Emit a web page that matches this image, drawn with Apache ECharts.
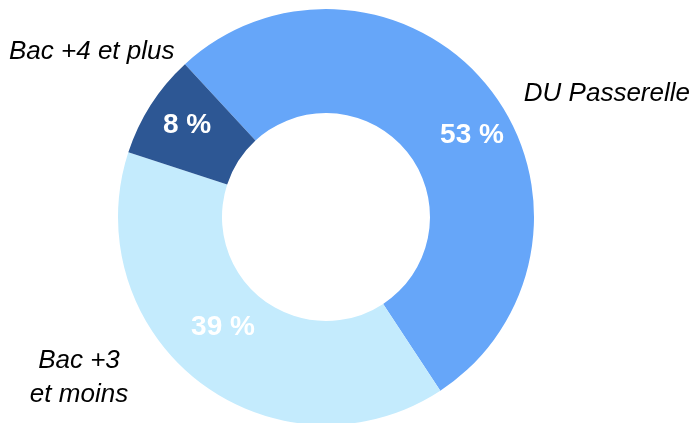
<!DOCTYPE html>
<html>
<head>
<meta charset="utf-8">
<script src="https://cdn.jsdelivr.net/npm/echarts@6/dist/echarts.min.js"></script>
<style>
  html, body { margin: 0; padding: 0; background: #fff; }
  #chart { width: 694px; height: 423px; }
</style>
</head>
<body>
<div id="chart"></div>
<script>
// catégories et valeurs (sens horaire, depuis le haut gauche)
const categories = ['DU Passerelle', 'Bac +3\net moins', 'Bac +4 et plus'];
const values = [52.6, 39.3, 8.1];
const colors = ['#66a6f9', '#c4ebfd', '#2d5794'];

// placement des étiquettes (pourcentages dans l'anneau, noms à l'extérieur)
const pctPos = [[472, 135], [223, 327], [187, 125]];
const namePos = [[690, 94, 'right'], [79, 378, 'center'], [9, 52, 'left']];

const chart = echarts.init(document.getElementById('chart'));
const data = categories.map((c, i) => ({ name: c, value: values[i], itemStyle: { color: colors[i] } }));

const option = {
  animation: false,
  series: [
    {
      type: 'pie',
      center: [326, 217],
      radius: [104, 208],
      startAngle: 132.7,
      clockwise: true,
      silent: true,
      data: data,
      label: {
        show: true,
        position: 'inside',
        formatter: p => Math.round(p.percent) + ' %',
        color: '#fff',
        fontSize: 28,
        fontWeight: 'bold',
        fontFamily: 'Liberation Sans, Arial, sans-serif'
      },
      labelLine: { show: false },
      labelLayout: p => ({
        x: pctPos[p.dataIndex][0],
        y: pctPos[p.dataIndex][1],
        align: 'center',
        verticalAlign: 'middle'
      })
    },
    {
      type: 'pie',
      center: [326, 217],
      radius: [104, 208],
      startAngle: 132.7,
      clockwise: true,
      silent: true,
      data: categories.map((c, i) => ({ name: c, value: values[i] })),
      itemStyle: { color: 'rgba(0,0,0,0)' },
      label: {
        show: true,
        position: 'outside',
        formatter: '{b}',
        color: '#000',
        fontSize: 26,
        fontStyle: 'italic',
        lineHeight: 34,
        overflow: 'none',
        width: 300,
        fontFamily: 'Liberation Sans, Arial, sans-serif'
      },
      labelLine: { show: false },
      labelLayout: p => ({
        x: namePos[p.dataIndex][0],
        y: namePos[p.dataIndex][1],
        align: namePos[p.dataIndex][2],
        verticalAlign: 'middle'
      })
    }
  ]
};

chart.setOption(option);
window.addEventListener('resize', () => chart.resize());
</script>
</body>
</html>
